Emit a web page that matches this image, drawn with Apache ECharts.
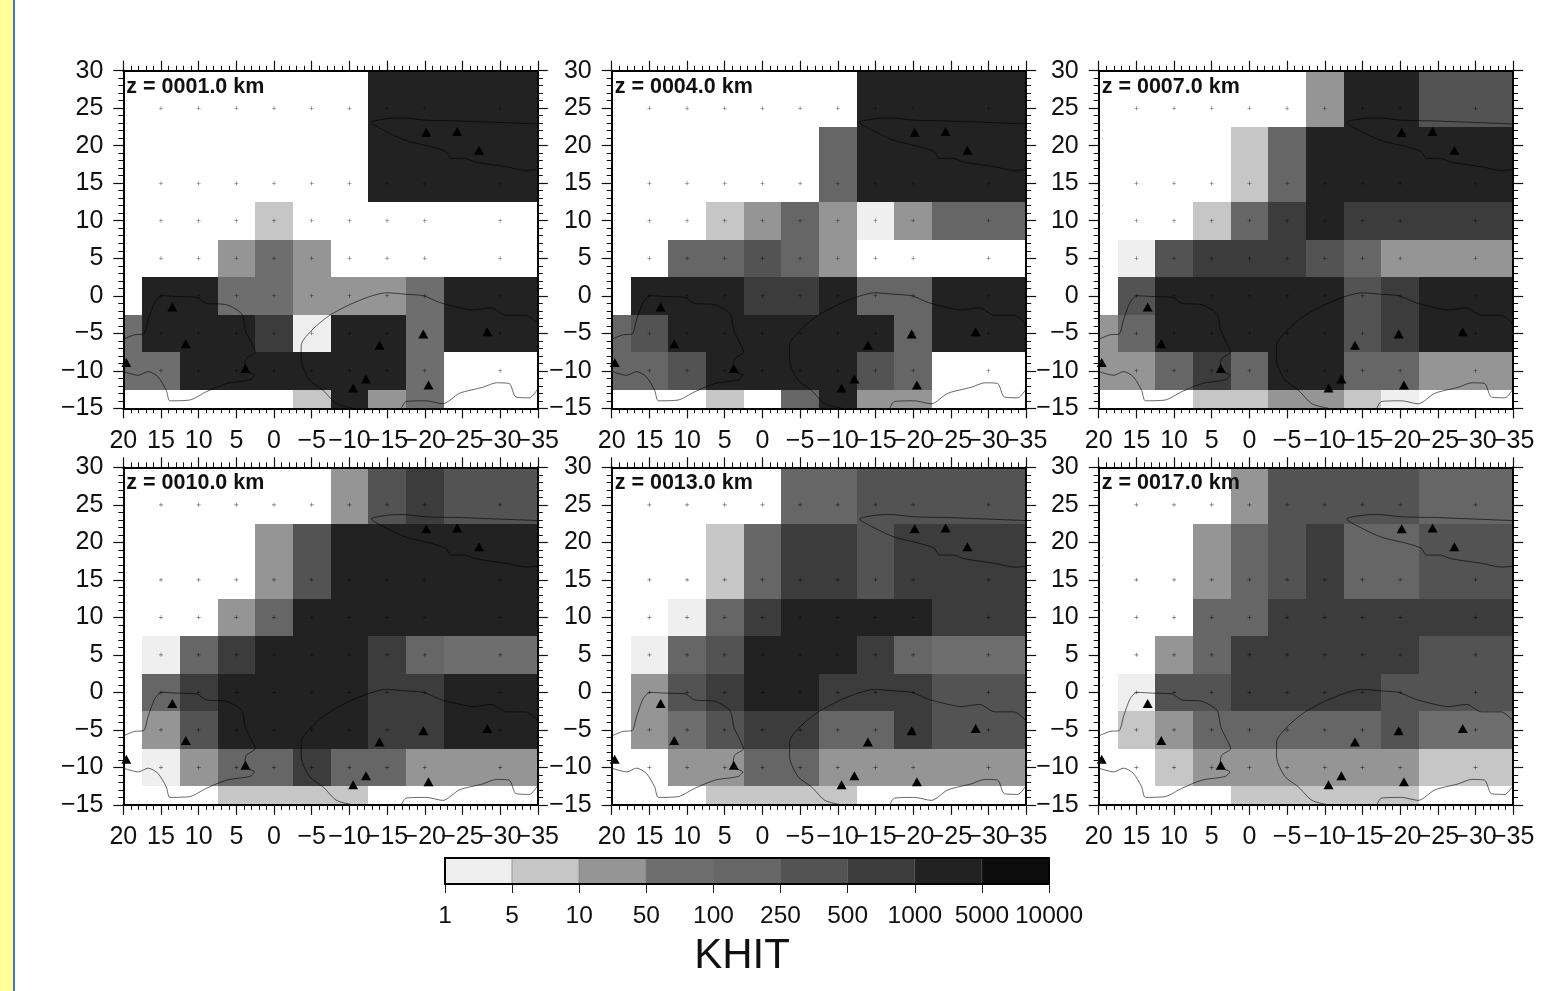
<!DOCTYPE html>
<html>
<head>
<meta charset="utf-8">
<title>KHIT</title>
<style>
  html, body { margin: 0; padding: 0; width: 100%; height: 100%; background: #fff; overflow: hidden; }
  #strip { position: absolute; left: 0; top: 0; bottom: 0; width: 13px; background: #ffff99; border-right: 2px solid #4472c4; }
  #chart { position: absolute; left: 0; top: 0; width: 1560px; height: 991px; }
</style>
<script src="https://cdn.jsdelivr.net/npm/echarts@6/dist/echarts.min.js"></script>
</head>
<body>
<div id="strip"></div>
<div id="chart"></div>
<script>
  // cell centres, rows run top to bottom
  var lons = [20, 15, 10, 5, 0, -5, -10, -15, -20, -25, -30, -35];
  var lats = [30, 25, 20, 15, 10, 5, 0, -5, -10, -15];

  // colour bar
  var khitTicks = ['1', '5', '10', '50', '100', '250', '500', '1000', '5000', '10000'];
  var binColors = ['#ffffff', '#efefef', '#c6c6c6', '#959595', '#6e6e6e', '#666666', '#535353', '#3c3c3c', '#222222', '#0d0d0d'];

  // KHIT bin per cell, 0 = no hits, n = between khitTicks[n-1] and khitTicks[n]
  var z0001 = [
    [0,0,0,0,0,0,0,8,8,8,8,8],
    [0,0,0,0,0,0,0,8,8,8,8,8],
    [0,0,0,0,0,0,0,8,8,8,8,8],
    [0,0,0,0,0,0,0,8,8,8,8,8],
    [0,0,0,0,2,0,0,0,0,0,0,0],
    [0,0,0,3,4,3,0,0,0,0,0,0],
    [0,8,8,4,4,3,3,3,4,8,8,8],
    [4,8,8,8,7,1,8,8,4,8,8,8],
    [4,4,8,8,8,8,8,8,4,0,0,0],
    [0,0,0,0,0,2,8,3,4,0,0,0]
  ];
  var z0004 = [
    [0,0,0,0,0,0,0,8,8,8,8,8],
    [0,0,0,0,0,0,0,8,8,8,8,8],
    [0,0,0,0,0,0,5,8,8,8,8,8],
    [0,0,0,0,0,0,5,8,8,8,8,8],
    [0,0,0,2,3,5,3,1,3,5,5,5],
    [0,0,5,5,6,5,3,0,0,0,0,0],
    [0,8,8,8,7,7,8,5,5,8,8,8],
    [5,6,8,8,8,8,8,8,5,8,8,8],
    [5,5,6,8,8,8,8,6,5,0,0,0],
    [0,0,0,2,0,5,8,3,3,0,0,0]
  ];
  var z0007 = [
    [0,0,0,0,0,0,3,8,8,6,6,6],
    [0,0,0,0,0,0,3,8,8,6,6,6],
    [0,0,0,0,2,5,8,8,8,8,8,8],
    [0,0,0,0,2,5,8,8,8,8,8,8],
    [0,0,0,2,5,7,8,7,7,7,7,7],
    [0,1,6,7,7,7,6,5,3,3,3,3],
    [0,6,8,8,8,8,8,6,7,8,8,8],
    [3,5,8,8,8,8,8,6,7,8,8,8],
    [3,3,5,7,5,8,8,5,5,3,3,3],
    [0,0,0,2,2,3,3,2,1,0,0,0]
  ];
  var z0010 = [
    [0,0,0,0,0,0,3,6,7,6,6,6],
    [0,0,0,0,0,0,3,6,7,6,6,6],
    [0,0,0,0,3,6,8,8,8,8,8,8],
    [0,0,0,0,3,6,8,8,8,8,8,8],
    [0,0,0,3,5,8,8,8,8,8,8,8],
    [0,1,5,7,8,8,8,7,5,4,4,4],
    [0,5,7,8,8,8,8,7,7,8,8,8],
    [0,3,6,8,8,8,8,7,7,8,8,8],
    [0,1,3,5,5,7,5,5,3,3,3,3],
    [0,0,0,2,2,2,2,0,0,0,0,0]
  ];
  var z0013 = [
    [0,0,0,0,0,5,5,6,6,6,6,6],
    [0,0,0,0,0,5,5,6,6,6,6,6],
    [0,0,0,2,5,7,7,6,7,7,7,7],
    [0,0,0,2,5,7,7,6,7,7,7,7],
    [0,0,1,5,7,8,8,8,8,7,7,7],
    [0,1,5,6,8,8,8,7,5,4,4,4],
    [0,3,6,7,8,8,7,7,7,6,6,6],
    [0,3,4,6,7,7,5,5,7,6,6,6],
    [0,0,3,3,5,5,3,3,3,3,3,3],
    [0,0,0,2,2,2,2,0,0,0,0,0]
  ];
  var z0017 = [
    [0,0,0,0,3,6,6,6,6,5,5,5],
    [0,0,0,0,3,6,6,6,6,5,5,5],
    [0,0,0,3,5,6,7,5,5,6,6,6],
    [0,0,0,3,5,6,7,5,5,6,6,6],
    [0,0,0,5,5,7,7,7,7,7,7,7],
    [0,0,3,5,7,7,7,7,7,6,6,6],
    [0,1,6,6,7,7,7,7,6,6,6,6],
    [0,2,3,5,5,5,5,5,6,4,4,4],
    [0,0,2,3,3,3,3,3,3,2,2,2],
    [0,0,0,0,2,2,2,2,2,0,0,0]
  ];

  var panelNames = ['z = 0001.0 km', 'z = 0004.0 km', 'z = 0007.0 km', 'z = 0010.0 km', 'z = 0013.0 km', 'z = 0017.0 km'];
  var panelGrids = [z0001, z0004, z0007, z0010, z0013, z0017];

  // stations
  var stations = [[-20.2,21.8],[-24.3,21.9],[-27.2,19.4],[13.5,-1.5],[11.7,-6.4],[19.6,-8.9],[3.8,-9.7],
    [-14,-6.6],[-12.2,-11.1],[-10.5,-12.3],[-19.8,-5.1],[-20.5,-11.9],[-28.3,-4.8]];

  // small + marks
  var markLons = [15, 10, 5, 0, -5, -10, -15, -20, -30];
  var markLats = [25, 15, 10, 5, 0, -5, -10];

  // coast lines
  var coastNorth = [[-35,22.9],[-29.9,23.1],[-24.6,23.3],[-20.2,23.4],[-17.1,23.7],[-14.9,23.6],[-12.9,23.1],[-14.5,22.1],
    [-17.5,20.7],[-21.1,19.8],[-22.8,19.2],[-23.5,18.3],[-25.3,18.3],[-26.8,17.8],[-30.8,17.2],[-33.4,16.7],[-35,16.8]];
  var coastWest = [[20,-5.8],[18.5,-5.2],[17.3,-5.1],[16.7,-3.2],[15.8,-0.8],[14.9,0],[12.9,-0.1],[10.3,-0.2],[9,-1],[6.3,-1.2],
    [4.3,-2.4],[3.8,-4.6],[3.2,-5.9],[2.5,-7.5],[3.7,-8.4],[3.9,-9.9],[2.6,-10.6],[3.2,-11.2],[6.3,-11.7],[9,-12.8],[11.2,-13.9],
    [13.8,-14],[14.3,-12.6],[15.4,-10.8],[16.7,-10.1],[18,-10.6],[20,-10.1]];
  var coastMiddle = [[-35,-3.8],[-33.4,-2.6],[-30.8,-2.6],[-28.8,-1.6],[-26.4,-1.9],[-24.2,-1.5],[-22,-0.9],[-19.8,0],[-17.5,0.2],
    [-14.9,0.4],[-12.7,-0.1],[-10,-1.2],[-7.4,-2.6],[-5.2,-4.4],[-3.6,-6.6],[-3.6,-8.6],[-4.7,-11.2],[-6.5,-12.6],[-8.3,-14.4],[-10.5,-15]];
  var coastSouth = [[-16.9,-15],[-17.5,-14.1],[-20.2,-14],[-22.4,-14.4],[-24.6,-13],[-27.7,-12.2],[-29.5,-11.6],[-31.2,-11.7],
    [-32.1,-13.5],[-33.9,-13.6],[-35,-12.4]];
  var coasts = [coastNorth, coastWest, coastMiddle, coastSouth];

  var axisFont = 'Liberation Sans';
  var lefts = [123.3, 611.7, 1098.7];
  var tops = [70.7, 467.3];
  var plotW = 414.5;
  var plotH = 337.6;

  var plusMark = 'path://M0,4.2H10V5.8H0ZM4.2,0H5.8V10H4.2Z';

  function fmtNum(v) {
    return String(v).replace('-', '\u2212');
  }

  function cellRender(params, api) {
    var lv = api.value(2);
    if (!lv) return null;
    var a = api.coord([api.value(0) + 2.5, api.value(1) + 2.5]);
    var b = api.coord([api.value(0) - 2.5, api.value(1) - 2.5]);
    var x0 = Math.round(a[0]), y0 = Math.round(a[1]);
    var rect = echarts.graphic.clipRectByRect(
      {x: x0, y: y0, width: Math.round(b[0]) - x0, height: Math.round(b[1]) - y0},
      params.coordSys
    );
    if (!rect) return null;
    return {type: 'rect', shape: rect, style: {fill: binColors[lv]}};
  }

  function frameAxis(dim, position, gridIndex, labelled) {
    var ax = {
      type: 'value',
      gridIndex: gridIndex,
      position: position,
      min: dim === 'x' ? -35 : -15,
      max: dim === 'x' ? 20 : 30,
      interval: 5,
      inverse: dim === 'x',
      z: 10,
      splitLine: {show: false},
      axisLine: {show: true, onZero: false, lineStyle: {color: '#000', width: 2}},
      axisTick: {show: true, length: 10, lineStyle: {color: '#111', width: 1.2}},
      minorTick: {show: true, splitNumber: 5, length: 5, lineStyle: {color: '#111', width: 1}},
      axisLabel: {show: labelled}
    };
    if (labelled) {
      ax.axisLabel = {
        show: true,
        // -35 and -30 touch, echarts would drop one, so -35 goes on its own axis
        showMinLabel: dim !== 'x',
        showMaxLabel: true,
        color: '#111',
        fontFamily: axisFont,
        fontSize: 25,
        margin: 20,
        padding: dim === 'y' ? [7, 0, 0, 0] : 0,
        formatter: fmtNum
      };
    }
    return ax;
  }

  // carries only the -35 label
  function endLabelAxis(gridIndex) {
    var ax = frameAxis('x', 'bottom', gridIndex, true);
    ax.axisLine = {show: false, onZero: false};
    ax.axisTick = {show: false};
    ax.minorTick = {show: false};
    ax.axisLabel.showMinLabel = true;
    ax.axisLabel.showMaxLabel = false;
    ax.axisLabel.formatter = function (v) {
      return v === -35 ? fmtNum(v) : '';
    };
    return ax;
  }

  var grids = [], xAxes = [], yAxes = [], series = [], titles = [];

  var marks = [];
  markLons.forEach(function (lon) {
    markLats.forEach(function (lat) { marks.push([lon, lat]); });
  });

  panelGrids.forEach(function (cells, p) {
    var left = lefts[p % 3], top = tops[Math.floor(p / 3)];
    grids.push({left: left, top: top, width: plotW, height: plotH});
    xAxes.push(frameAxis('x', 'bottom', p, true), frameAxis('x', 'top', p, false), endLabelAxis(p));
    yAxes.push(frameAxis('y', 'left', p, true), frameAxis('y', 'right', p, false));

    var cellData = [];
    lats.forEach(function (lat, r) {
      lons.forEach(function (lon, c) { cellData.push([lon, lat, cells[r][c]]); });
    });
    var xi = p * 3, yi = p * 2;
    series.push({
      type: 'custom', xAxisIndex: xi, yAxisIndex: yi, z: 1, silent: true,
      renderItem: cellRender, encode: {x: 0, y: 1}, data: cellData
    });
    coasts.forEach(function (coast) {
      series.push({
        type: 'line', xAxisIndex: xi, yAxisIndex: yi, z: 2, silent: true, smooth: 0.25,
        showSymbol: false, lineStyle: {color: '#000', width: 0.6}, data: coast
      });
    });
    series.push({
      type: 'scatter', xAxisIndex: xi, yAxisIndex: yi, z: 3, silent: true,
      symbol: plusMark, symbolSize: 4, itemStyle: {color: 'rgba(0,0,0,0.6)', opacity: 1}, data: marks
    });
    series.push({
      type: 'scatter', xAxisIndex: xi, yAxisIndex: yi, z: 4, silent: true, clip: false,
      symbol: 'triangle', symbolSize: [10, 9], itemStyle: {color: '#000', opacity: 1}, data: stations
    });
    titles.push({
      text: panelNames[p], left: left + 3, top: top + 5, padding: 0,
      textStyle: {fontFamily: axisFont, fontWeight: 'bold', fontSize: 21.5, color: '#111'}
    });
  });

  // colour bar
  var barGrid = grids.length;
  var barData = [];
  binColors.forEach(function (c, i) {
    if (i > 0) barData.push([i - 1, i]);
  });
  grids.push({left: 445, top: 858, width: 604, height: 26, show: true, borderColor: '#000', borderWidth: 2, z: 10});
  xAxes.push({
    type: 'value', gridIndex: barGrid, min: 0, max: 9, interval: 1, position: 'bottom',
    splitLine: {show: false},
    axisLine: {show: false},
    axisTick: {show: true, length: 9, lineStyle: {color: '#222', width: 1}},
    axisLabel: {
      color: '#111', fontFamily: axisFont, fontSize: 24.5, margin: 20,
      showMinLabel: true, showMaxLabel: true,
      formatter: function (v) { return khitTicks[v]; }
    }
  });
  yAxes.push({type: 'value', gridIndex: barGrid, min: 0, max: 1, show: false});
  series.push({
    type: 'custom', xAxisIndex: xAxes.length - 1, yAxisIndex: yAxes.length - 1, z: 1, silent: true,
    encode: {x: 0},
    data: barData,
    renderItem: function (params, api) {
      var a = api.coord([api.value(0), 1]);
      var b = api.coord([api.value(1), 0]);
      return {
        type: 'rect',
        shape: {x: a[0], y: a[1], width: b[0] - a[0], height: b[1] - a[1]},
        style: {fill: binColors[api.value(1)], stroke: '#555', lineWidth: 0.4}
      };
    }
  });
  titles.push({
    text: 'KHIT', left: 742, top: 935, textAlign: 'center', padding: 0,
    textStyle: {fontFamily: axisFont, fontWeight: 'normal', fontSize: 42, color: '#111'}
  });

  var chart = echarts.init(document.getElementById('chart'));
  chart.setOption({
    animation: false,
    backgroundColor: 'transparent',
    title: titles,
    grid: grids,
    xAxis: xAxes,
    yAxis: yAxes,
    series: series
  });
</script>
</body>
</html>
